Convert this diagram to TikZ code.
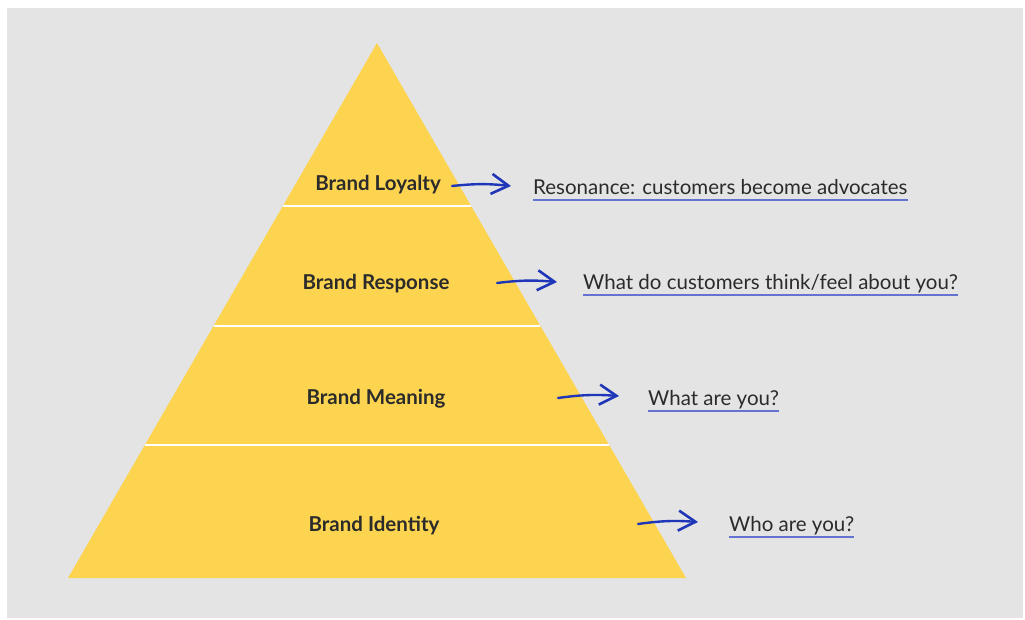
\documentclass[tikz,border=0pt]{standalone}
\usepackage{fontspec}
\setmainfont{Lato}
\usetikzlibrary{arrows.meta,calc}
\definecolor{bg}{HTML}{E4E4E4}
\definecolor{pyr}{HTML}{FDD44F}
\definecolor{arr}{HTML}{1F36B8}
\definecolor{uline}{HTML}{6373CF}
\definecolor{txt}{HTML}{2B2B2B}
\tikzset{
  layer/.style={font=\fontsize{20.5}{24}\selectfont\bfseries, text=txt, inner sep=0pt},
  desc/.style={font=\fontsize{20.5}{24}\selectfont, text=txt, inner sep=0pt, anchor=base west},
  sep/.style={white, line width=2.6pt},
  blue arrow/.style={arr, line width=2.4pt, line cap=round,
    -{Straight Barb[length=17pt, width=20pt, line width=2.6pt]}},
  underl/.style={uline, line width=1.4pt}
}
\begin{document}
\begin{tikzpicture}[x=1pt,y=-1pt]
\useasboundingbox (0,0) rectangle (1025,619);
\fill[white] (0,0) rectangle (1025,619);
\fill[bg] (7,8) rectangle (1023,618);
% pyramid
\coordinate (apex) at (377,43);
\coordinate (bl) at (68,578);
\coordinate (br) at (686,578);
\fill[pyr] (apex) -- (bl) -- (br) -- cycle;
\draw[sep] ($(apex)!0.3047!(bl)$) -- ($(apex)!0.3047!(br)$);
\draw[sep] ($(apex)!0.5290!(bl)$) -- ($(apex)!0.5290!(br)$);
\draw[sep] ($(apex)!0.7514!(bl)$) -- ($(apex)!0.7514!(br)$);
% layer labels
\node[layer] (loyalty) at (378,185) {Brand Loyalty};
\node[layer] (response) at (376,284) {Brand Response};
\node[layer] (meaning) at (376,399) {Brand Meaning};
\node[layer] (identity) at (374,526) {Brand Identity};
% descriptions
\node[desc] (d1) at (533,194) {Resonance: customers become advocates};
\node[desc] (d2) at (583,289) {What do customers think/feel about you?};
\node[desc] (d3) at (648,405) {What are you?};
\node[desc] (d4) at (729,531) {Who are you?};
\foreach \n in {d1,d2,d3,d4}{
  \draw[underl] ($(\n.base west)+(0,6)$) -- ($(\n.base east)+(0,6)$);
}
% arrows
\coordinate (a1s) at (452,186); \coordinate (a1e) at (511,186);
\coordinate (a2s) at (497,283); \coordinate (a2e) at (557,282);
\coordinate (a3s) at (558,398); \coordinate (a3e) at (619,396);
\coordinate (a4s) at (638,524); \coordinate (a4e) at (698,522);
\draw[blue arrow] (a1s) to[bend left=6] (a1e);
\draw[blue arrow] (a2s) to[bend left=6] (a2e);
\draw[blue arrow] (a3s) to[bend left=6] (a3e);
\draw[blue arrow] (a4s) to[bend left=6] (a4e);
\end{tikzpicture}
\end{document}
